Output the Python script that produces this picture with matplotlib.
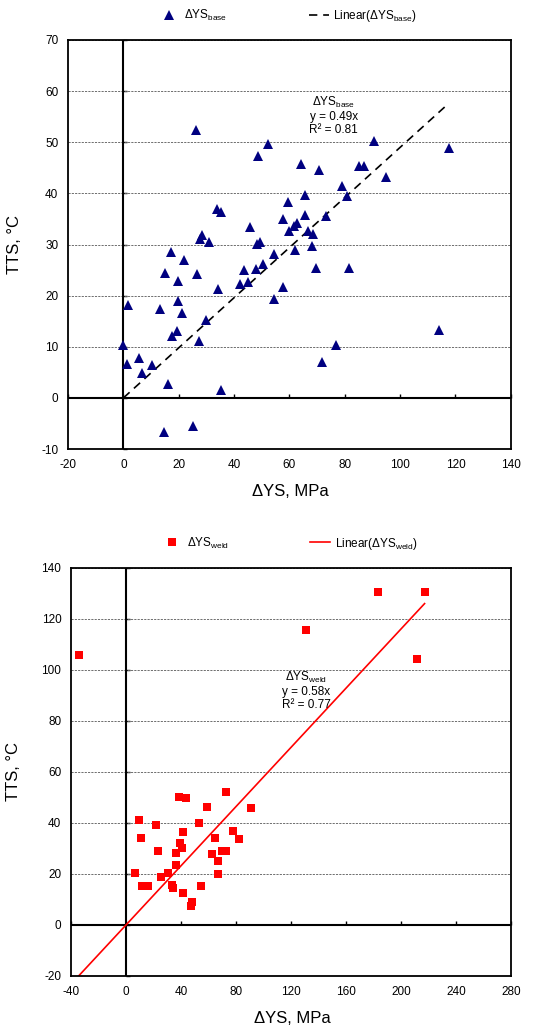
import numpy as np
import matplotlib
matplotlib.use("Agg")
import matplotlib.pyplot as plt

plt.rcParams['font.family'] = ['Liberation Sans', 'DejaVu Sans']
plt.rcParams['mathtext.fontset'] = 'custom'
plt.rcParams['mathtext.rm'] = 'Liberation Sans'
plt.rcParams['mathtext.it'] = 'Liberation Sans:italic'
plt.rcParams['mathtext.bf'] = 'Liberation Sans:bold'
plt.rcParams['axes.unicode_minus'] = False

# base metal: delta yield strength (MPa) vs transition temperature shift (C)
base_x = [0.0, 1.5, 1.4, 5.8, 6.7, 10.5, 13.2, 15.2, 16.1, 14.6,
          17.3, 17.5, 19.3, 19.6, 19.6, 21.1, 21.9, 25.1, 26.3, 26.5,
          27.3, 27.7, 28.3, 29.8, 30.8, 33.9, 35.4, 34.3, 35.4, 42.1,
          43.7, 44.9, 45.7, 48.0, 48.1, 49.5, 48.8, 50.3, 52.4, 54.4,
          54.5, 57.7, 57.7, 59.6, 60.0, 61.6, 62.0, 62.9, 64.3, 65.6,
          65.8, 66.7, 68.0, 68.5, 69.5, 70.8, 71.9, 73.1, 76.7, 78.9,
          80.8, 81.4, 85.2, 87.1, 90.7, 94.9, 114.0, 117.5]
base_y = [10.4, 18.2, 6.7, 7.9, 4.8, 6.4, 17.3, 24.4, 2.8, -6.6,
          28.5, 12.1, 13.0, 19.0, 22.8, 16.7, 26.9, -5.5, 52.4, 24.2,
          11.2, 31.0, 31.9, 15.2, 30.5, 37.0, 36.3, 21.3, 1.5, 22.2,
          25.0, 22.6, 33.5, 25.3, 30.1, 30.5, 47.3, 26.2, 49.6, 28.2,
          19.3, 21.6, 35.0, 38.3, 32.7, 33.6, 28.9, 34.3, 45.8, 35.8,
          39.6, 32.7, 29.8, 32.1, 25.5, 44.6, 7.0, 35.5, 10.3, 41.5,
          39.4, 25.5, 45.4, 45.3, 50.2, 43.3, 13.3, 48.9]
base_slope = 0.49
base_r2 = 0.81

# weld metal
weld_x = [-34.3, 6.4, 9.2, 11.1, 11.8, 16.3, 21.7, 22.9, 25.5, 30.2,
          33.7, 34.0, 36.1, 36.1, 38.4, 39.6, 40.8, 41.5, 41.5, 43.6,
          47.4, 48.3, 53.3, 54.4, 58.7, 62.2, 64.6, 66.9, 66.9, 69.8,
          72.6, 72.8, 78.0, 82.3, 91.2, 131.0, 183.5, 211.7, 217.1]
weld_y = [105.9, 20.3, 41.3, 34.1, 15.1, 15.3, 39.1, 29.1, 18.9, 20.3,
          15.6, 14.4, 28.2, 23.6, 50.2, 32.1, 30.2, 36.5, 12.5, 49.6,
          7.5, 9.0, 40.0, 15.3, 46.3, 27.9, 34.1, 25.2, 19.9, 28.9,
          28.9, 52.2, 37.0, 33.7, 46.0, 115.7, 130.6, 104.1, 130.6]
weld_slope = 0.58
weld_r2 = 0.77


def draw_panel(ax, x, y, slope, r2, name, marker, color, msize, fit_kw,
               xlim, xstep, ylim, ystep, note_xy, ylab_x):
    x = np.asarray(x)
    y = np.asarray(y)
    lab = 'ΔYS$_{\\mathrm{%s}}$' % name

    ax.set_xlim(*xlim)
    ax.set_ylim(*ylim)
    xt = np.arange(xlim[0], xlim[1] + 1, xstep)
    yt = np.arange(ylim[0], ylim[1] + 1, ystep)
    ax.set_xticks(xt)
    ax.set_yticks(yt)
    ax.tick_params(length=0, pad=7, labelsize=8.5, colors='black')

    ax.yaxis.grid(True, linestyle=(0, (2.2, 1.2)), color='#6e6e6e', linewidth=0.7)
    ax.set_axisbelow(True)
    for sp in ax.spines.values():
        sp.set_linewidth(1.3)
        sp.set_color('black')

    # axis lines through zero, Excel style
    ax.axhline(0, color='black', lw=1.5, zorder=1.5)
    ax.axvline(0, color='black', lw=1.5, zorder=1.5)
    sx = ax.secondary_xaxis(0, transform=ax.transData)
    sx.set_xticks(xt)
    sx.tick_params(direction='in', length=3, width=1, labelbottom=False)
    sy = ax.secondary_yaxis(0, transform=ax.transData)
    sy.set_yticks(yt)
    sy.tick_params(direction='in', length=3, width=1, labelleft=False)
    for s in (sx, sy):
        for sp in s.spines.values():
            sp.set_visible(False)

    ax.plot(x, y, linestyle='none', marker=marker, color=color,
            markersize=msize, markeredgewidth=0, label=lab, zorder=3)
    xs = np.array([x.min(), x.max()])
    ax.plot(xs, slope * xs, label='Linear(%s)' % lab, zorder=2, **fit_kw)

    note = '%s\ny = %.2fx\nR² = %.2f' % (lab, slope, r2)
    ax.text(note_xy[0], note_xy[1], note, ha='center', va='center',
            multialignment='center', fontsize=8.5, linespacing=1.1)

    ax.set_xlabel('ΔYS, MPa', fontsize=12)
    ax.set_ylabel('TTS, °C', fontsize=12)
    ax.xaxis.set_label_coords(0.502, -0.104)
    ax.xaxis.label.set_va('center')
    ax.yaxis.set_label_coords(ylab_x, 0.5)
    ax.yaxis.label.set_va('center')

    ax.legend(loc='center', bbox_to_anchor=(0.497, 1.059), ncol=2,
              frameon=False, fontsize=8.5, handlelength=1.7,
              handletextpad=0.4, columnspacing=6.9, numpoints=1)


fig = plt.figure(figsize=(5.36, 10.28), dpi=100)
ax1 = fig.add_axes([0.127, 0.5632, 0.826, 0.3979])
ax2 = fig.add_axes([0.1325, 0.0506, 0.821, 0.3972])

draw_panel(ax1, base_x, base_y, base_slope, base_r2, 'base', '^', '#000080', 7.5,
           dict(color='black', lw=1.2, linestyle=(0, (5, 3.5))),
           (-20, 140), 20, (-10, 70), 10, (76, 55.3), -0.122)
draw_panel(ax2, weld_x, weld_y, weld_slope, weld_r2, 'weld', 's', '#ff0000', 5.6,
           dict(color='#ff0000', lw=1.2, linestyle='-'),
           (-40, 280), 40, (-20, 140), 20, (131, 92), -0.13)

fig.savefig('out.png', dpi=100)
